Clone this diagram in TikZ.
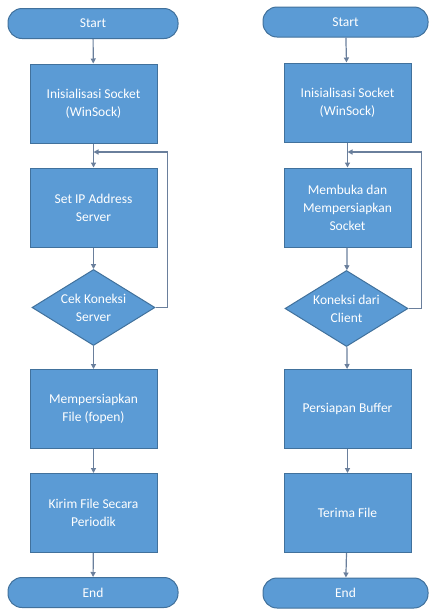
\documentclass[tikz,border=0pt]{standalone}
\usepackage{fontspec}
\setmainfont{Carlito}
\usetikzlibrary{arrows.meta, shapes.geometric}
\definecolor{cfill}{HTML}{5B9BD5}
\definecolor{cedge}{HTML}{41719C}
\definecolor{cline}{HTML}{6A7F9C}
\tikzset{
  every picture/.style={line width=1pt},
  proc/.style={draw=cedge, fill=cfill, text=white, align=center, minimum width=127pt, minimum height=79pt, inner sep=2pt, font=\fontsize{13.5}{18}\selectfont},
  term/.style={proc, minimum width=170pt, minimum height=30pt, rounded corners=14pt},
  cond/.style={proc, diamond, aspect=1.6, minimum width=123pt, minimum height=76pt, inner sep=0pt},
  arrow/.style={-{Triangle[length=5pt, width=5pt]}, draw=cline, line width=1.2pt},
}

\begin{document}
\begin{tikzpicture}[x=1pt, y=-1pt]
  \useasboundingbox (0,0) rectangle (430,611);
  % client side
  \node[term] (start1) at (93,23.5) {Start};
  \node[proc] (init1) at (93.5,103.5) {Inisialisasi Socket\\(WinSock)};
  \node[proc] (setip) at (93.5,207.5) {Set IP Address\\Server};
  \node[cond] (cek) at (93.5,307.5) {Cek Koneksi\\Server};
  \node[proc] (prep) at (93.5,409) {Mempersiapkan\\File (fopen)};
  \node[proc] (kirim) at (93.5,513) {Kirim File Secara\\Periodik};
  \node[term] (end1) at (93,592.5) {End};
  \coordinate (join1) at (93.5,152);
  % server side
  \node[term, minimum width=165pt] (start2) at (345.5,22) {Start};
  \node[proc] (init2) at (347.5,102.5) {Inisialisasi Socket\\(WinSock)};
  \node[proc] (buka) at (347.5,207.5) {Membuka dan\\Mempersiapkan\\Socket};
  \node[cond] (koneksi) at (346.5,308.5) {Koneksi dari\\Client};
  \node[proc] (buffer) at (347.5,409) {Persiapan Buffer};
  \node[proc] (terima) at (347.5,513) {Terima File};
  \node[term, minimum width=165pt] (end2) at (345.5,593) {End};
  \coordinate (join2) at (347.5,152);
  % connectors
  \foreach \a/\b in {start1/init1, init1/setip, setip/cek, cek/prep, prep/kirim, kirim/end1,
                     start2/init2, init2/buka, buka/koneksi, koneksi/buffer, buffer/terima, terima/end2}
    \draw[arrow] (\a) -- (\b);
  % retry loops
  \draw[arrow] (cek.east) -- ++(12,0) |- (join1);
  \draw[arrow] (koneksi.east) -- ++(13,0) |- (join2);
\end{tikzpicture}
\end{document}
